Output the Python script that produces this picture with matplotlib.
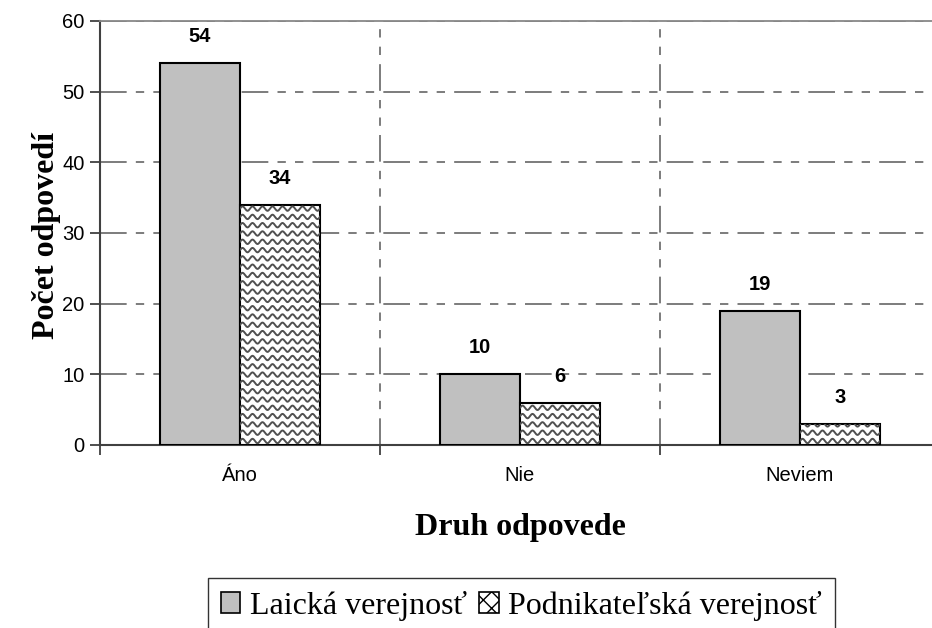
import matplotlib
matplotlib.use("Agg")
import matplotlib.pyplot as plt
import numpy as np
from matplotlib.patches import Patch

categories = ["Áno", "Nie", "Neviem"]
laicka = [54, 10, 19]
podnik = [34, 6, 3]
series_names = ["Laická verejnosť", "Podnikateľská verejnosť"]

W, H = 932, 628
fig = plt.figure(figsize=(W / 100, H / 100), dpi=100)
ax = fig.add_axes([100 / W, 1 - 445 / H, 840 / W, 424 / H])

x = np.arange(len(categories))
bw = 0.287
b1 = ax.bar(x - bw / 2, laicka, bw, color="#c0c0c0", edgecolor="black", lw=1.5, zorder=3)
b2 = ax.bar(x + bw / 2, podnik, bw, color="white", edgecolor="black", lw=1.5, zorder=3)

ax.set_xlim(-0.5, 2.5)
ax.set_ylim(0, 60)

# wave hatch drawn inside each hatched bar
sx = 840 / 3.0
sy = 424 / 60.0
for rect in b2:
    x0 = rect.get_x()
    x1 = x0 + rect.get_width()
    h = rect.get_height()
    xs = np.linspace(x0, x1, 200)
    y = 4 / sy
    while y < h + 8 / sy:
        ys = y + (2.2 / sy) * np.sin(2 * np.pi * (xs - x0) / (10 / sx))
        ln, = ax.plot(xs, ys, color="#505050", lw=1.4, zorder=3.5)
        ln.set_clip_path(rect)
        y += 8.3 / sy

# value labels
for rects, vals in ((b1, laicka), (b2, podnik)):
    for r, v in zip(rects, vals):
        ax.text(r.get_x() + r.get_width() / 2, v + 2.4, str(v), ha="center", va="bottom",
                fontsize=14.5, fontweight="bold", family="Liberation Sans", zorder=5)

ax.set_yticks(range(0, 61, 10))
ax.set_xticks(x)
ax.set_xticklabels(categories)
ax.set_xticks([-0.5, 0.5, 1.5, 2.5], minor=True)
ax.tick_params(axis="x", which="major", length=0, pad=15, labelsize=14.5)
ax.tick_params(axis="x", which="minor", length=7, width=1.3, color="#404040", direction="out")
ax.tick_params(axis="y", length=7, width=1.3, color="#404040", labelsize=14.5, pad=4)
for lab in ax.get_xticklabels() + ax.get_yticklabels():
    lab.set_family("Liberation Sans")

dash = (0, (16, 5.5, 5, 5.5, 5, 5.5))
ax.grid(axis="y", which="major", color="#666666", lw=1.2, linestyle=dash, zorder=1)
ax.grid(axis="x", which="minor", color="#666666", lw=1.2, linestyle=dash, zorder=1)
ax.grid(axis="x", which="major", visible=False)

ax.spines["top"].set_color("#888888")
ax.spines["top"].set_linewidth(1.3)
ax.spines["right"].set_visible(False)
ax.spines["left"].set_color("#404040")
ax.spines["left"].set_linewidth(1.5)
ax.spines["bottom"].set_color("#404040")
ax.spines["bottom"].set_linewidth(1.5)

fig.text(47 / W, 1 - 235 / H, "Počet odpovedí", rotation=90, ha="center", va="center",
         fontsize=23, fontweight="bold", family="Liberation Serif")
fig.text(520 / W, 1 - 527 / H, "Druh odpovede", ha="center", va="center",
         fontsize=23, fontweight="bold", family="Liberation Serif")

handles = [Patch(facecolor="#c0c0c0", edgecolor="black", lw=1.2),
           Patch(facecolor="white", edgecolor="black", lw=1.2, hatch="xx")]
leg = fig.legend(handles, series_names, loc="upper left", bbox_to_anchor=(208 / W, 1 - 578 / H),
                 ncol=2, frameon=True, fancybox=False, shadow=False, borderpad=0.4,
                 handlelength=0.6, handleheight=0.6, handletextpad=0.3, columnspacing=0.4,
                 borderaxespad=0, prop={"family": "Liberation Serif", "size": 23})
leg.get_frame().set_edgecolor("black")
leg.get_frame().set_linewidth(1.0)

fig.savefig("out.png", dpi=100)
